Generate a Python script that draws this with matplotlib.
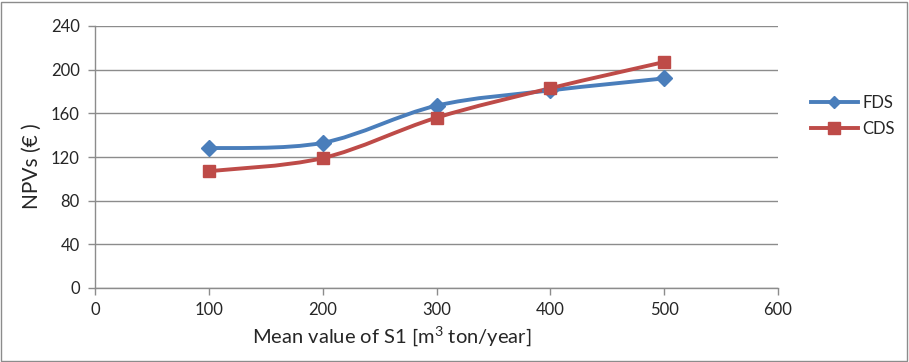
import numpy as np
import matplotlib.pyplot as plt
from matplotlib.path import Path
from matplotlib.patches import PathPatch, Rectangle
from matplotlib.lines import Line2D

plt.rcParams['font.family'] = ['Lato', 'DejaVu Sans']
plt.rcParams['mathtext.default'] = 'regular'

s1_mean = [100, 200, 300, 400, 500]
npv_fds = [128, 133, 167, 181, 192]
npv_cds = [107, 119, 156, 183, 207]

BLUE = '#4A7EBB'
RED = '#BE4B48'
GRID = '#8C8C8C'
TEXT = '#262626'


def smooth_path(x, y):
    # cubic bezier through the points, same style as spreadsheet "smoothed line"
    p = np.column_stack([x, y]).astype(float)
    n = len(p)
    verts = [p[0]]
    codes = [Path.MOVETO]
    for i in range(n - 1):
        p_prev = p[i - 1] if i > 0 else p[i]
        p_next2 = p[i + 2] if i + 2 < n else p[i + 1]
        c1 = p[i] + (p[i + 1] - p_prev) / 6
        c2 = p[i + 1] - (p_next2 - p[i]) / 6
        verts += [c1, c2, p[i + 1]]
        codes += [Path.CURVE4] * 3
    return Path(verts, codes)


fig = plt.figure(figsize=(9.09, 3.62), dpi=100)
ax = fig.add_axes([95 / 909, 1 - 288 / 362, (778 - 95) / 909, (288 - 26) / 362])

for yv, col, mk, ms, name in [(npv_fds, BLUE, 'D', 8, 'FDS'), (npv_cds, RED, 's', 9, 'CDS')]:
    ax.add_patch(PathPatch(smooth_path(s1_mean, yv), facecolor='none',
                           edgecolor=col, lw=2.8, zorder=3, capstyle='round'))
    ax.plot(s1_mean, yv, linestyle='none', marker=mk, ms=ms, color=col, zorder=4, label=name)

ax.set_xlim(0, 600)
ax.set_ylim(0, 240)
ax.set_xticks(np.arange(0, 601, 100))
ax.set_yticks(np.arange(0, 241, 40))
ax.yaxis.grid(True, color=GRID, lw=1)
ax.set_axisbelow(True)
for side in ['top', 'right']:
    ax.spines[side].set_visible(False)
for side in ['left', 'bottom']:
    ax.spines[side].set_color(GRID)
    ax.spines[side].set_linewidth(1)
ax.tick_params(colors=GRID, labelcolor=TEXT, labelsize=12, length=5, width=1)
ax.tick_params(axis='x', pad=5)
ax.tick_params(axis='y', pad=6)
ax.set_xlabel('Mean value of S1 [m$^3$ ton/year]', fontsize=14.5, color=TEXT)
ax.set_ylabel('NPVs (€ )', fontsize=15, color=TEXT)
ax.xaxis.set_label_coords(0.434, -0.14)
ax.yaxis.set_label_coords(-0.078, 0.464)

handles = [Line2D([], [], color=BLUE, lw=2.8, marker='D', ms=6),
           Line2D([], [], color=RED, lw=2.8, marker='s', ms=8)]
fig.legend(handles, ['FDS', 'CDS'], loc='center left', bbox_to_anchor=(796 / 909, 1 - 116 / 362),
           frameon=False, fontsize=12, handlelength=2.8, handletextpad=0.3, labelspacing=0.6,
           labelcolor=TEXT)

fig.patches.append(Rectangle((1 / 909, 1 / 362), 1 - 3 / 909, 1 - 3 / 362, transform=fig.transFigure,
                             fill=False, edgecolor=GRID, lw=1))

fig.savefig('out.png', dpi=100)
